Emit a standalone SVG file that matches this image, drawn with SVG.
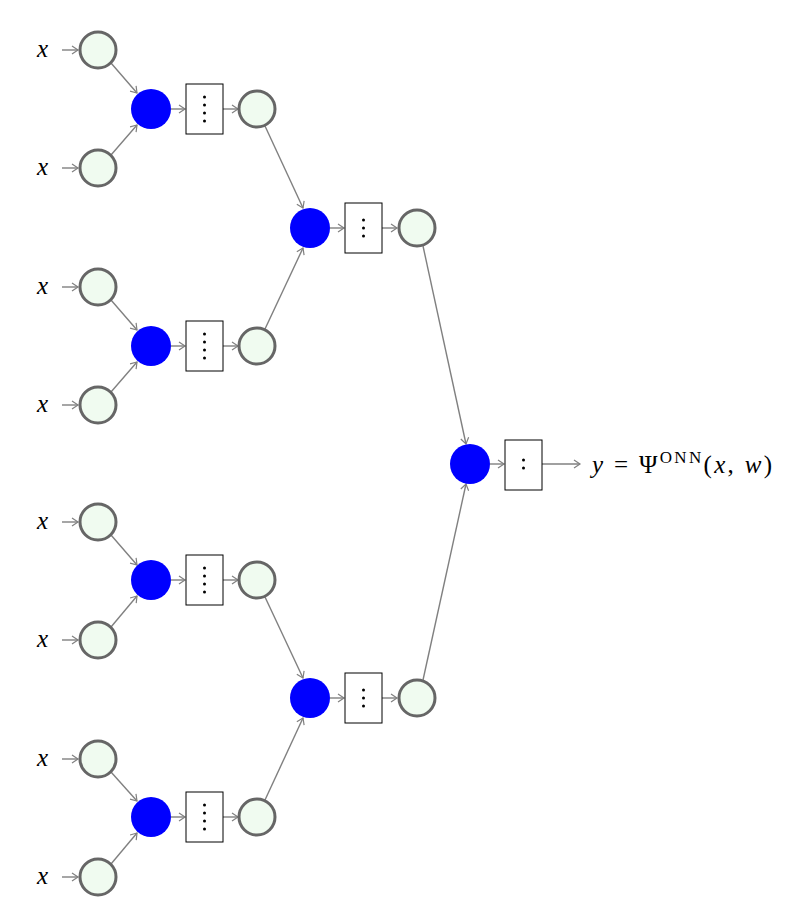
<svg xmlns="http://www.w3.org/2000/svg" width="810" height="903" viewBox="0 0 810 903">
<defs>
<marker id="a" markerWidth="10" markerHeight="10" refX="8" refY="5" orient="auto" markerUnits="userSpaceOnUse"><path d="M2,1 L8,5 L2,9" fill="none" stroke="#808080" stroke-width="1.2"/></marker>
<style>
.e line{stroke:#808080;stroke-width:1.4;marker-end:url(#a)}
.c{fill:#f0fbf0;stroke:#666;stroke-width:3}
.b{fill:#0000ff}
.r{fill:#fff;stroke:#000;stroke-width:1}
.d{fill:#000}
text{font-family:"Liberation Serif",serif;font-size:25px;font-style:italic}
</style>
</defs>
<g id="connectors" class="e">
<line x1="62" y1="50" x2="78" y2="50"/><line x1="62" y1="168" x2="78" y2="168"/><line x1="62" y1="287" x2="78" y2="287"/><line x1="62" y1="405" x2="78" y2="405"/>
<line x1="62" y1="522" x2="78" y2="522"/><line x1="62" y1="640" x2="78" y2="640"/><line x1="62" y1="759" x2="78" y2="759"/><line x1="62" y1="877" x2="78" y2="877"/>
<line x1="111" y1="63" x2="137" y2="93"/><line x1="111" y1="155" x2="137" y2="125"/><line x1="111" y1="300" x2="137" y2="330"/><line x1="111" y1="392" x2="137" y2="362"/>
<line x1="111" y1="535" x2="137" y2="565"/><line x1="111" y1="627" x2="137" y2="596"/><line x1="111" y1="772" x2="137" y2="801"/><line x1="111" y1="864" x2="137" y2="833"/>
<line x1="171" y1="109" x2="185" y2="109"/><line x1="222" y1="109" x2="238" y2="109"/><line x1="171" y1="346" x2="185" y2="346"/><line x1="222" y1="346" x2="238" y2="346"/>
<line x1="171" y1="580" x2="185" y2="580"/><line x1="222" y1="580" x2="238" y2="580"/><line x1="171" y1="817" x2="185" y2="817"/><line x1="222" y1="817" x2="238" y2="817"/>
<line x1="265" y1="126" x2="303" y2="208"/><line x1="265" y1="329" x2="303" y2="248"/><line x1="265" y1="597" x2="303" y2="678"/><line x1="265" y1="800" x2="303" y2="718"/>
<line x1="330" y1="228" x2="344" y2="228"/><line x1="381" y1="228" x2="397" y2="228"/><line x1="330" y1="698" x2="344" y2="698"/><line x1="381" y1="698" x2="397" y2="698"/>
<line x1="423" y1="246" x2="466" y2="444"/><line x1="423" y1="680" x2="466" y2="484"/>
<line x1="490" y1="464" x2="504" y2="464"/><line x1="542" y1="464" x2="580" y2="464"/>
</g>
<g id="inputs">
<text x="37" y="57">x</text><text x="37" y="175">x</text><text x="37" y="294">x</text><text x="37" y="412">x</text>
<text x="37" y="529">x</text><text x="37" y="647">x</text><text x="37" y="766">x</text><text x="37" y="884">x</text>
</g>
<g id="in1"><circle class="c" cx="98" cy="50" r="18"/></g>
<g id="in2"><circle class="c" cx="98" cy="168" r="18"/></g>
<g id="in3"><circle class="c" cx="98" cy="287" r="18"/></g>
<g id="in4"><circle class="c" cx="98" cy="405" r="18"/></g>
<g id="in5"><circle class="c" cx="98" cy="522" r="18"/></g>
<g id="in6"><circle class="c" cx="98" cy="640" r="18"/></g>
<g id="in7"><circle class="c" cx="98" cy="759" r="18"/></g>
<g id="in8"><circle class="c" cx="98" cy="877" r="18"/></g>
<g id="l1a"><circle class="b" cx="151" cy="109" r="20"/><rect class="r" x="186" y="84" width="37" height="50"/><circle class="d" cx="204.5" cy="97" r="1.5"/><circle class="d" cx="204.5" cy="105" r="1.5"/><circle class="d" cx="204.5" cy="113" r="1.5"/><circle class="d" cx="204.5" cy="121" r="1.5"/><circle class="c" cx="257" cy="109" r="18"/></g>
<g id="l1b"><circle class="b" cx="151" cy="346" r="20"/><rect class="r" x="186" y="321" width="37" height="50"/><circle class="d" cx="204.5" cy="334" r="1.5"/><circle class="d" cx="204.5" cy="342" r="1.5"/><circle class="d" cx="204.5" cy="350" r="1.5"/><circle class="d" cx="204.5" cy="358" r="1.5"/><circle class="c" cx="257" cy="346" r="18"/></g>
<g id="l1c"><circle class="b" cx="151" cy="580" r="20"/><rect class="r" x="186" y="555" width="37" height="50"/><circle class="d" cx="204.5" cy="568" r="1.5"/><circle class="d" cx="204.5" cy="576" r="1.5"/><circle class="d" cx="204.5" cy="584" r="1.5"/><circle class="d" cx="204.5" cy="592" r="1.5"/><circle class="c" cx="257" cy="580" r="18"/></g>
<g id="l1d"><circle class="b" cx="151" cy="817" r="20"/><rect class="r" x="186" y="792" width="37" height="50"/><circle class="d" cx="204.5" cy="805" r="1.5"/><circle class="d" cx="204.5" cy="813" r="1.5"/><circle class="d" cx="204.5" cy="821" r="1.5"/><circle class="d" cx="204.5" cy="829" r="1.5"/><circle class="c" cx="257" cy="817" r="18"/></g>
<g id="l2a"><circle class="b" cx="310" cy="228" r="20"/><rect class="r" x="345" y="203" width="37" height="50"/><circle class="d" cx="363.5" cy="220" r="1.5"/><circle class="d" cx="363.5" cy="228" r="1.5"/><circle class="d" cx="363.5" cy="236" r="1.5"/><circle class="c" cx="417" cy="228" r="18"/></g>
<g id="l2b"><circle class="b" cx="310" cy="698" r="20"/><rect class="r" x="345" y="673" width="37" height="50"/><circle class="d" cx="363.5" cy="690" r="1.5"/><circle class="d" cx="363.5" cy="698" r="1.5"/><circle class="d" cx="363.5" cy="706" r="1.5"/><circle class="c" cx="417" cy="698" r="18"/></g>
<g id="l3"><circle class="b" cx="470" cy="464" r="20"/><rect class="r" x="505" y="440" width="37" height="50"/><circle class="d" cx="523.5" cy="460" r="1.5"/><circle class="d" cx="523.5" cy="468" r="1.5"/></g>
<g id="output"><text x="592" y="473" textLength="180" lengthAdjust="spacing">y <tspan font-style="normal">= Ψ</tspan><tspan font-style="normal" font-size="17" dy="-10">ONN</tspan><tspan font-style="normal" dy="10">(</tspan>x<tspan font-style="normal">, </tspan>w<tspan font-style="normal">)</tspan></text></g>
</svg>
